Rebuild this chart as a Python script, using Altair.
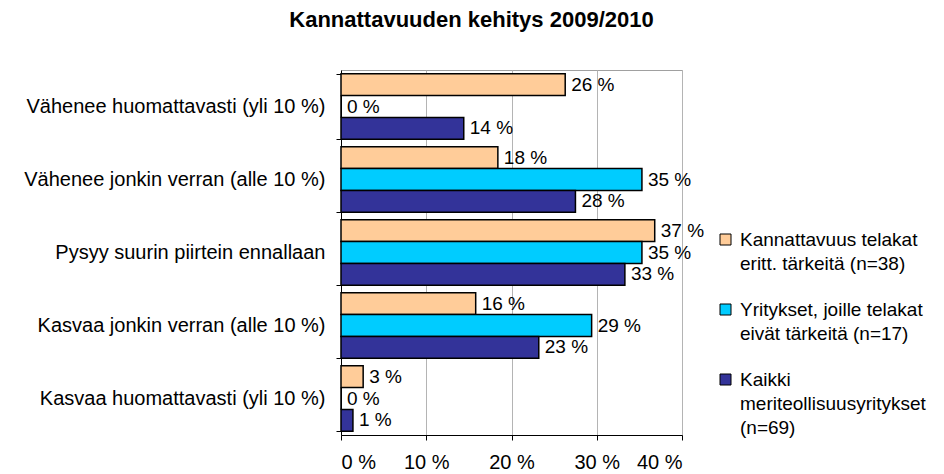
import altair as alt
import pandas as pd

categories = [
    "Vähenee huomattavasti (yli 10 %)",
    "Vähenee jonkin verran (alle 10 %)",
    "Pysyy suurin piirtein ennallaan",
    "Kasvaa jonkin verran (alle 10 %)",
    "Kasvaa huomattavasti (yli 10 %)",
]
series = [
    "Kannattavuus telakat|eritt. tärkeitä (n=38)",
    "Yritykset, joille telakat|eivät tärkeitä (n=17)",
    "Kaikki|meriteollisuusyritykset|(n=69)",
]
values_telakat = [26.3, 18.4, 36.8, 15.8, 2.6]
values_yritykset = [0.0, 35.3, 35.3, 29.4, 0.0]
values_kaikki = [14.4, 27.5, 33.3, 23.2, 1.4]
colors = ["#FFCC99", "#00CCFF", "#333399"]
x_ticks = [0, 10, 20, 30, 40]

rows = []
for s, vals in zip(series, [values_telakat, values_yritykset, values_kaikki]):
    for c, v in zip(categories, vals):
        rows.append({"cat": c, "series": s, "value": v})
df = pd.DataFrame(rows)

FONT = "Liberation Sans"

y_enc = alt.Y(
    "cat:N",
    sort=categories,
    title=None,
    scale=alt.Scale(paddingInner=0.1, paddingOuter=0.05),
    axis=alt.Axis(
        tickBand="extent",
        tickSize=5,
        tickColor="black",
        domainColor="black",
        labelFontSize=20,
        labelColor="black",
        labelPadding=11,
        labelLimit=400,
        labelFont=FONT,
    ),
)
yoff = alt.YOffset("series:N", sort=series, scale=alt.Scale(paddingInner=0, paddingOuter=0))
x_enc = alt.X(
    "value:Q",
    title=None,
    scale=alt.Scale(domain=[0, 40], nice=False),
    axis=alt.Axis(
        values=x_ticks,
        labelExpr="datum.value + ' %'",
        tickSize=5,
        tickColor="black",
        domainColor="black",
        gridColor="#B4B4B4",
        labelFontSize=20,
        labelColor="black",
        labelPadding=12,
        labelFont=FONT,
    ),
)
color_enc = alt.Color(
    "series:N",
    sort=series,
    scale=alt.Scale(domain=series, range=colors),
    legend=alt.Legend(
        title=None,
        orient="none",
        legendX=375,
        legendY=160,
        labelExpr="split(datum.label, '|')",
        labelFontSize=19,
        labelFont=FONT,
        labelColor="black",
        labelLimit=400,
        labelBaseline="middle",
        symbolType="square",
        symbolSize=121,
        symbolStrokeColor="black",
        symbolStrokeWidth=1,
        symbolOpacity=1,
        labelOffset=5,
        rowPadding=26,
    ),
)

bars = alt.Chart(df).mark_bar(stroke="black", strokeWidth=1.5, opacity=1).encode(
    y=y_enc, yOffset=yoff, x=x_enc, color=color_enc
)
labels = alt.Chart(df).mark_text(
    align="left", baseline="middle", dx=6, fontSize=19, font=FONT, color="black"
).encode(
    y=alt.Y("cat:N", sort=categories),
    yOffset=yoff,
    x=alt.X("value:Q"),
    text=alt.Text("lbl:N"),
).transform_calculate(lbl="format(datum.value, '.0f') + ' %'")

chart = (
    alt.layer(bars, labels)
    .properties(
        width=341,
        height=365,
        autosize=alt.AutoSizeParams(type="none"),
        padding={"left": 333, "top": 62, "right": 254, "bottom": 39},
        title=alt.TitleParams(
            "Kannattavuuden kehitys 2009/2010",
            fontSize=22,
            font=FONT,
            fontWeight="bold",
            color="black",
            anchor="middle",
            dx=-40,
            offset=28,
        ),
    )
    .configure(style={"guide-label": {"lineHeight": 24}})
    .configure_view(stroke="#A0A0A0", strokeWidth=1)
)

chart.save("out.html", embed_options={"renderer": "svg", "actions": False})
